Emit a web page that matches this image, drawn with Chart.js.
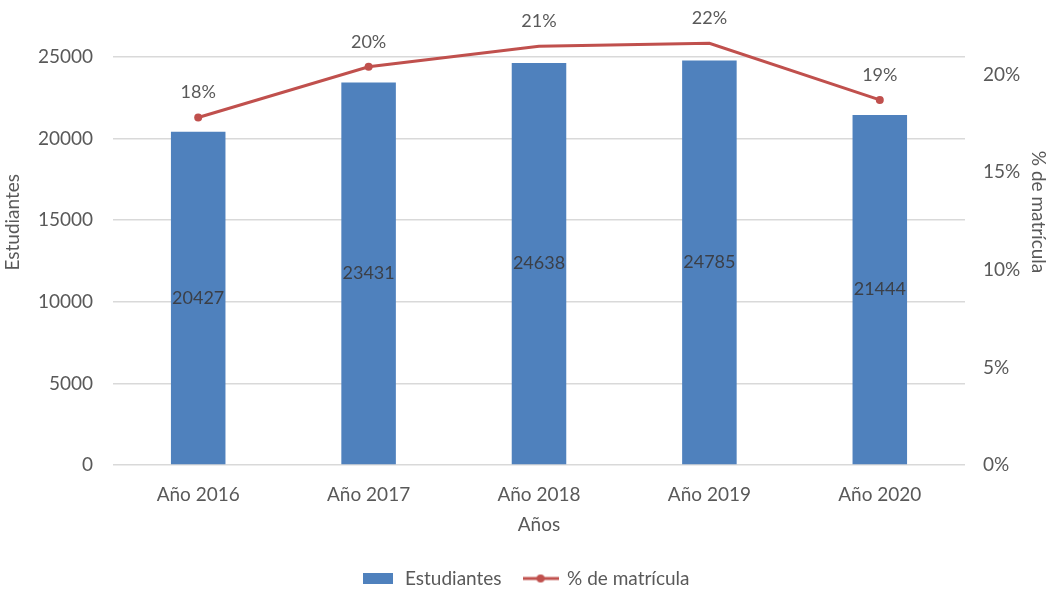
<!DOCTYPE html>
<html>
<head>
<meta charset="utf-8">
<script src="https://cdn.jsdelivr.net/npm/chart.js@4/dist/chart.umd.min.js"></script>
<style>
  html, body { margin: 0; padding: 0; background: #fff; }
  #wrap { width: 1051px; height: 591px; }
</style>
</head>
<body>
<div id="wrap"><canvas id="myChart" width="1051" height="591"></canvas></div>
<script>
// datos del gráfico
const anios = ["Año 2016", "Año 2017", "Año 2018", "Año 2019", "Año 2020"];
const estudiantes = [20427, 23431, 24638, 24785, 21444];
const pctMatricula = [17.8, 20.4, 21.45, 21.6, 18.7];
const ticksEstudiantes = [0, 5000, 10000, 15000, 20000, 25000];
const ticksPct = [0, 5, 10, 15, 20];

const azul = "#4f81bd";
const rojo = "#c0504d";
const gris = "#595959";
const fuente = "Lato";

// iconos de la leyenda
function iconoBarra() {
  const c = document.createElement("canvas");
  c.width = 30; c.height = 11;
  const g = c.getContext("2d");
  g.fillStyle = azul;
  g.fillRect(0, 0, 30, 11);
  return c;
}
function iconoLinea() {
  const c = document.createElement("canvas");
  c.width = 36; c.height = 10;
  const g = c.getContext("2d");
  g.strokeStyle = rojo;
  g.lineWidth = 3;
  g.beginPath(); g.moveTo(0, 5); g.lineTo(36, 5); g.stroke();
  g.fillStyle = rojo;
  g.beginPath(); g.arc(18, 5, 4, 0, Math.PI * 2); g.fill();
  return c;
}

// etiquetas de valores y títulos de ejes
const etiquetas = {
  id: "etiquetas",
  afterDatasetsDraw(chart) {
    const ctx = chart.ctx;
    const area = chart.chartArea;
    const alto = area.bottom - area.top;
    ctx.save();
    ctx.textAlign = "center";
    ctx.textBaseline = "middle";
    ctx.font = "18px " + fuente;

    const barras = chart.getDatasetMeta(0).data;
    ctx.fillStyle = "#3b3f47";
    barras.forEach((el, i) => {
      ctx.fillText(String(estudiantes[i]), el.x, (el.y + el.base) / 2);
    });

    const puntos = chart.getDatasetMeta(1).data;
    ctx.fillStyle = gris;
    puntos.forEach((el, i) => {
      ctx.fillText(Math.round(pctMatricula[i]) + "%", el.x, el.y - 25);
    });
    ctx.restore();

    // títulos verticales
    ctx.save();
    ctx.fillStyle = gris;
    ctx.font = "19px " + fuente;
    ctx.textAlign = "center";
    ctx.textBaseline = "middle";
    ctx.translate(13, area.top + alto * 0.405);
    ctx.rotate(-Math.PI / 2);
    ctx.fillText("Estudiantes", 0, 0);
    ctx.restore();

    ctx.save();
    ctx.fillStyle = gris;
    ctx.font = "19px " + fuente;
    ctx.textAlign = "center";
    ctx.textBaseline = "middle";
    ctx.translate(1038, area.top + alto * 0.38);
    ctx.rotate(Math.PI / 2);
    ctx.fillText("% de matrícula", 0, 0);
    ctx.restore();
  },
};

Chart.defaults.font.family = fuente;
Chart.defaults.font.size = 19;
Chart.defaults.color = gris;

const ctx = document.getElementById("myChart").getContext("2d");
new Chart(ctx, {
  type: "bar",
  data: {
    labels: anios,
    datasets: [
      {
        type: "bar",
        label: "Estudiantes",
        data: estudiantes,
        backgroundColor: azul,
        barPercentage: 0.32,
        categoryPercentage: 1,
        yAxisID: "y",
      },
      {
        type: "line",
        label: "% de matrícula",
        data: pctMatricula,
        borderColor: rojo,
        backgroundColor: rojo,
        borderWidth: 3,
        pointRadius: 4,
        pointBackgroundColor: rojo,
        pointBorderWidth: 0,
        tension: 0,
        clip: false,
        yAxisID: "y1",
      },
    ],
  },
  options: {
    responsive: false,
    animation: false,
    layout: { padding: { top: 57, left: 0, right: 0, bottom: -7 } },
    plugins: {
      tooltip: { enabled: false },
      legend: {
        position: "bottom",
        labels: {
          usePointStyle: true,
          pointStyleWidth: 34,
          boxHeight: 11,
          padding: 22,
          color: gris,
          font: { size: 19 },
          generateLabels: function () {
            return [
              { text: "Estudiantes", pointStyle: iconoBarra(), fontColor: gris, datasetIndex: 0, lineWidth: 0, strokeStyle: "transparent" },
              { text: "% de matrícula", pointStyle: iconoLinea(), fontColor: gris, datasetIndex: 1, lineWidth: 0, strokeStyle: "transparent" },
            ];
          },
        },
      },
    },
    scales: {
      x: {
        afterFit: function (scale) { scale.height = 82; },
        grid: { display: false, drawTicks: false },
        border: { display: false },
        ticks: { padding: 18, color: gris },
        title: { display: true, text: "Años", color: gris, padding: { top: 0, bottom: 11 } },
      },
      y: {
        position: "left",
        min: 0,
        max: 25000,
        afterFit: function (scale) { scale.width = 113; },
        afterBuildTicks: function (scale) {
          scale.ticks = ticksEstudiantes.map((v) => ({ value: v }));
        },
        grid: { color: "#d9d9d9", drawTicks: false, lineWidth: 1.5 },
        border: { display: false },
        ticks: {
          padding: 20,
          color: gris,
          callback: function (v) { return String(v); },
        },
      },
      y1: {
        position: "right",
        min: 0,
        max: 20.9,
        afterFit: function (scale) { scale.width = 86; },
        afterBuildTicks: function (scale) {
          scale.ticks = ticksPct.map((v) => ({ value: v }));
        },
        grid: { display: false, drawTicks: false },
        border: { display: false },
        ticks: {
          padding: 18,
          color: gris,
          callback: function (v) { return v + "%"; },
        },
      },
    },
  },
  plugins: [etiquetas],
});
</script>
</body>
</html>
